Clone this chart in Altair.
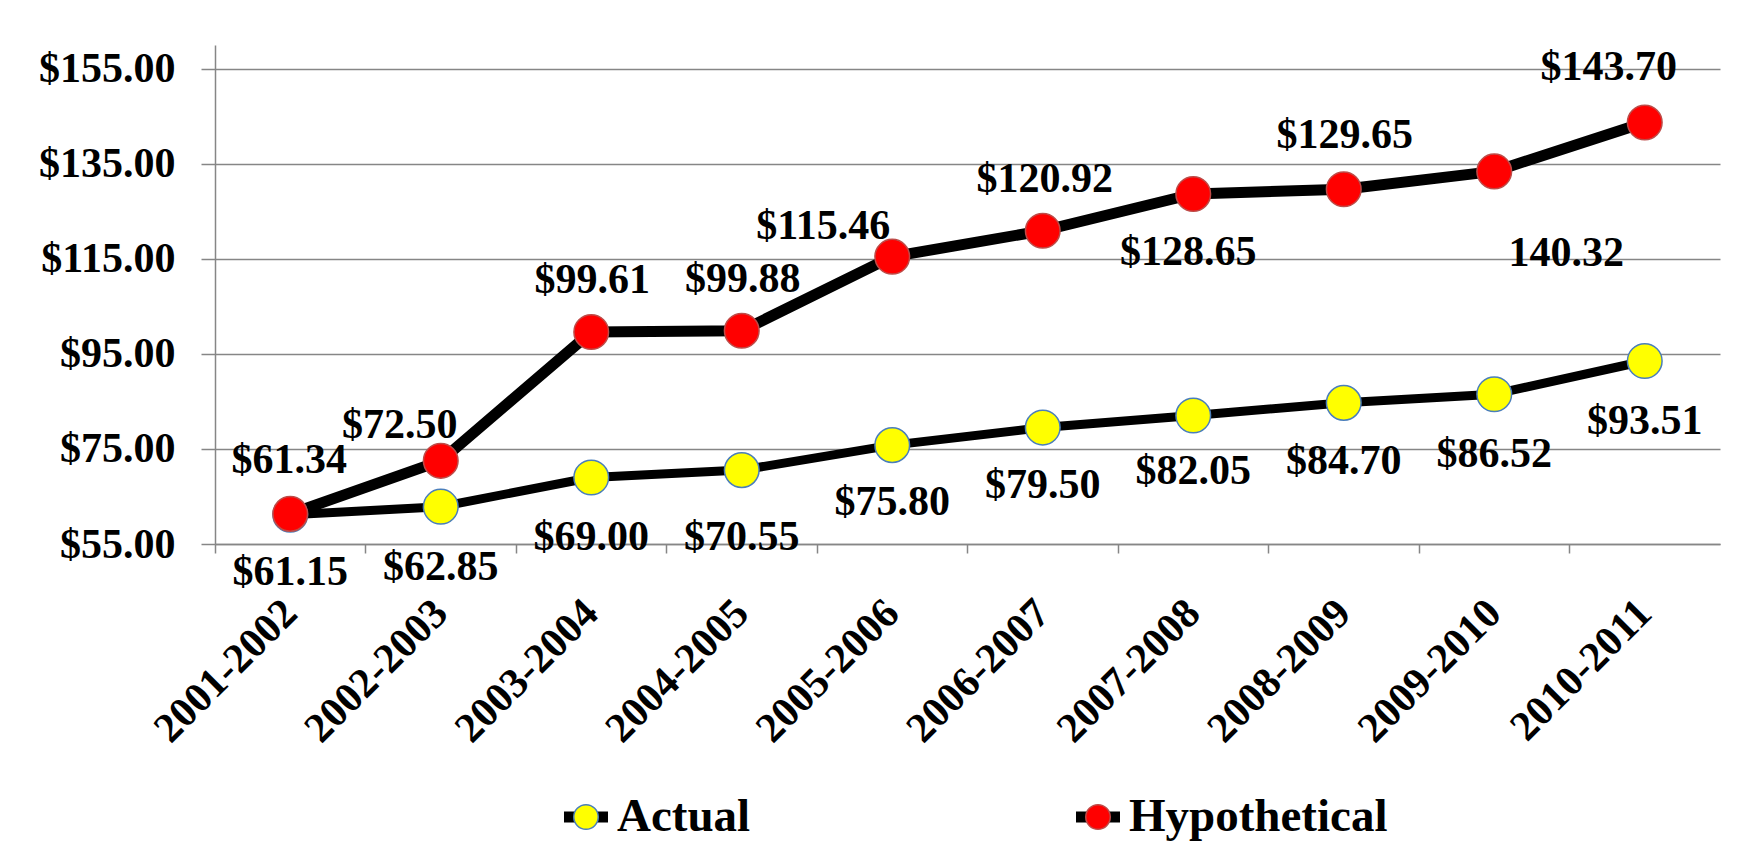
import altair as alt
import pandas as pd

# ---------------- data ----------------
periods = ["2001-2002", "2002-2003", "2003-2004", "2004-2005", "2005-2006",
           "2006-2007", "2007-2008", "2008-2009", "2009-2010", "2010-2011"]
actual = [61.15, 62.85, 69.00, 70.55, 75.80, 79.50, 82.05, 84.70, 86.52, 93.51]
hypothetical = [61.34, 72.50, 99.61, 99.88, 115.46, 120.92, 128.65, 129.65, 133.40, 143.70]
actual_labels = ["$61.15", "$62.85", "$69.00", "$70.55", "$75.80",
                 "$79.50", "$82.05", "$84.70", "$86.52", "$93.51"]
hypothetical_labels = ["$61.34", "$72.50", "$99.61", "$99.88", "$115.46",
                       "$120.92", "$128.65", "$129.65", "140.32", "$143.70"]
series_names = ["Actual", "Hypothetical"]
y_ticks = [55, 75, 95, 115, 135, 155]

# ---------------- style ----------------
FONT = "Liberation Serif"
FS = 42
GRAY = "#868686"
fill_colors = ["#FFFF00", "#FF0000"]
stroke_colors = ["#4A7EBB", "#BE4B48"]
line_widths = [9, 11]
# data-label offsets (pixels) relative to each marker
actual_dx = [0, 0, 0, 0, 0, 0, 0, 0, 0, 0]
actual_dy = [57, 60, 60, 67, 57, 57, 56, 58, 60, 60]
hyp_dx = [-1, -41, 1, 1, -69, 2, -5, 1, 72, -36]
hyp_dy = [-54, -36, -52, -52, -31, -52, 58, -54, 82, -55]

W, H = 1505, 499

df = pd.DataFrame({
    "period": periods * 2,
    "series": ["Actual"] * len(periods) + ["Hypothetical"] * len(periods),
    "value": actual + hypothetical,
    "label": actual_labels + hypothetical_labels,
    "idx": list(range(len(periods))) * 2,
})

x_enc = alt.X(
    "period:N", sort=periods,
    scale=alt.Scale(type="band", paddingInner=0, paddingOuter=0),
    axis=alt.Axis(
        title=None, grid=False, bandPosition=0,
        labelAngle=-45, labelAlign="right", labelBaseline="middle", labelLimit=500,
        labelPadding=53, tickSize=9, tickColor=GRAY, tickWidth=1.5,
        domainColor=GRAY, domainWidth=1.5,
        labelFont=FONT, labelFontSize=42, labelFontWeight="bold", labelColor="black",
    ),
)
y_enc = alt.Y(
    "value:Q",
    scale=alt.Scale(domain=[55, 160], nice=False, zero=False),
    axis=alt.Axis(
        title=None, values=y_ticks, format="$.2f",
        grid=True, gridColor=GRAY, gridWidth=1.5,
        tickSize=14, tickColor=GRAY, tickWidth=1.5,
        domainColor=GRAY, domainWidth=1.5, labelPadding=26,
        labelFont=FONT, labelFontSize=FS, labelFontWeight="bold", labelColor="black",
    ),
)

base = alt.Chart(df).encode(x=x_enc, y=y_enc)

layers = []
for k, s in enumerate(series_names):
    layers.append(
        base.transform_filter(alt.datum.series == s)
        .mark_line(color="black", strokeWidth=line_widths[k], strokeCap="round", strokeJoin="round")
    )
for k, s in enumerate(series_names):
    layers.append(
        base.transform_filter(alt.datum.series == s)
        .mark_point(shape="circle", filled=True, size=1200, fill=fill_colors[k],
                    stroke=stroke_colors[k], strokeWidth=1.5, opacity=1)
    )
for k, s in enumerate(series_names):
    dxs = actual_dx if k == 0 else hyp_dx
    dys = actual_dy if k == 0 else hyp_dy
    for i in range(len(periods)):
        layers.append(
            base.transform_filter((alt.datum.series == s) & (alt.datum.idx == i))
            .mark_text(font=FONT, fontSize=FS, fontWeight="bold", color="black",
                       align="center", baseline="middle", dx=dxs[i], dy=dys[i])
            .encode(text="label:N")
        )

main = alt.layer(*layers).properties(width=W, height=H)

# ---------------- legend (drawn as a small chart) ----------------
legend_df = pd.DataFrame({"series": series_names})
lx = alt.X("series:N", sort=series_names,
           scale=alt.Scale(type="point", padding=0.7246), axis=None)
leg_bar = alt.Chart(legend_df).mark_point(
    shape="M-1,-0.25H1V0.25H-1Z", filled=True, color="black", opacity=1, size=1936
).encode(x=lx)
leg_dot = alt.Chart(legend_df).mark_point(
    shape="circle", filled=True, size=600, strokeWidth=1.5, opacity=1
).encode(
    x=lx,
    fill=alt.Fill("series:N", scale=alt.Scale(domain=series_names, range=fill_colors), legend=None),
    stroke=alt.Stroke("series:N", scale=alt.Scale(domain=series_names, range=stroke_colors), legend=None),
)
leg_txt = alt.Chart(legend_df).mark_text(
    align="left", baseline="middle", dx=31, font=FONT, fontSize=47, fontWeight="bold", color="black"
).encode(x=lx, text="series:N")
legend = alt.layer(leg_bar, leg_dot, leg_txt).properties(width=1254, height=40)

chart = (
    alt.vconcat(main, legend, spacing=41)
    .properties(padding={"left": 30, "top": 36, "right": 10, "bottom": 5}, background="white")
    .configure_view(stroke="transparent")
)

chart.save("out.html", embed_options={"renderer": "svg", "actions": False})
